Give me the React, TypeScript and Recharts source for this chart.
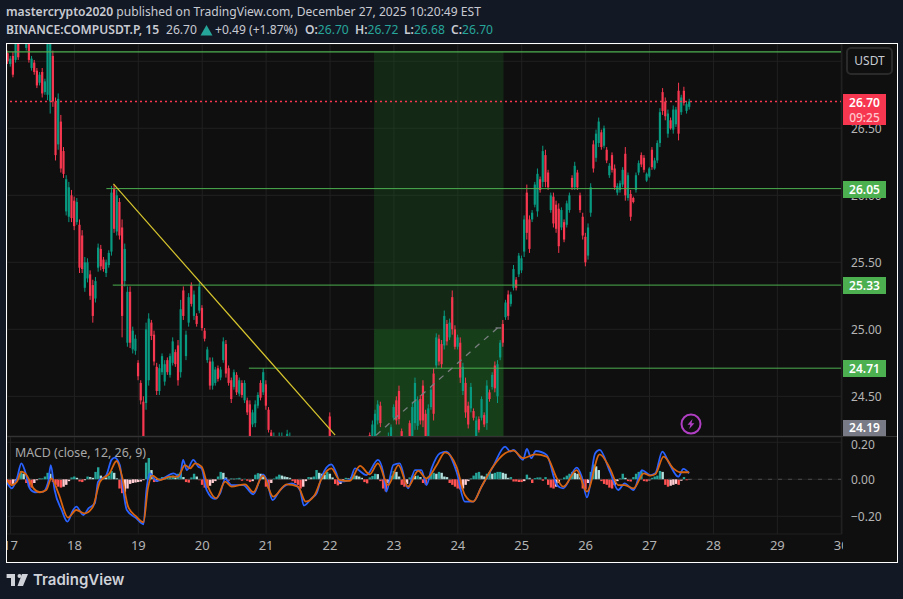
import React from "react";
import { ComposedChart, Bar, Line, Cell, XAxis, YAxis, CartesianGrid, ReferenceLine, ReferenceArea } from "recharts";

const highs = [
27.08,27.04,27.07,27.16,27.16,27.3,27.28,27.2,27.18,27.04,
27.01,26.95,26.92,26.95,26.87,27.2,27.25,27.08,26.73,26.76,
26.6,26.36,26.15,26.1,26.04,25.99,25.98,25.82,25.74,25.54,
25.53,25.44,25.37,25.39,25.64,25.63,25.54,25.52,25.59,26.07,
26.08,26.04,25.98,25.82,25.64,25.32,25.32,25.02,24.96,24.77,
24.62,24.5,25.05,25.12,25.07,24.99,24.75,24.74,24.82,24.77,
24.79,24.82,24.94,24.85,24.92,25.22,25.32,24.99,25.27,25.35,
25.29,25.12,25.35,25.18,25.01,24.87,24.79,24.79,24.72,24.73,
24.72,24.94,24.92,24.73,24.64,24.7,24.68,24.64,24.62,24.62,
24.49,24.47,24.4,24.47,24.53,24.62,24.71,24.62,24.42,24.25,
24.23,24.18,24.23,24.23,24.19,24.25,24.23,24.17,24.16,24.15,
24.14,24.15,24.16,24.14,24.13,24.15,24.17,24.16,24.18,24.17,
24.18,24.38,24.16,24.14,24.15,24.13,24.14,24.15,24.16,24.15,
24.17,24.16,24.17,24.18,24.19,24.19,24.23,24.32,24.4,24.47,
24.46,24.19,24.2,24.23,24.29,24.44,24.5,24.58,24.26,24.19,
24.2,24.32,24.46,24.64,24.5,24.51,24.62,24.4,24.44,24.57,
24.71,24.97,24.96,24.92,25.14,25.07,25.08,25.29,25.03,24.96,
24.94,24.75,24.64,24.46,24.6,24.41,24.35,24.35,24.5,24.38,
24.62,24.55,24.68,24.76,24.77,24.92,25.07,25.22,25.29,25.28,
25.48,25.39,25.57,25.55,25.85,26.08,25.85,25.89,26.1,26.2,
26.14,26.37,26.34,26.19,26.02,26.02,25.96,25.94,25.91,25.82,
25.96,26.02,26.15,26.25,26.19,26.02,25.87,25.72,25.79,26.09,
26.41,26.49,26.58,26.49,26.52,26.36,26.24,26.32,26.23,26.09,
26.11,26.21,26.36,26.17,26.04,25.99,26.17,26.26,26.32,26.3,
26.17,26.21,26.36,26.28,26.41,26.65,26.8,26.73,26.64,26.58,
26.67,26.66,26.84,26.75,26.81,26.7,26.72];

const lows = [
26.98,26.96,26.88,26.99,27.01,27.18,27.17,27.08,26.99,26.93,
26.9,26.8,26.82,26.73,26.75,26.71,26.61,26.66,26.26,26.34,
26.17,26.13,25.85,25.8,25.8,25.74,25.78,25.42,25.42,25.28,
25.35,25.22,25.05,25.2,25.43,25.44,25.43,25.39,25.46,25.55,
25.72,25.7,25.67,24.94,25.32,24.87,24.86,24.82,24.81,24.62,
24.44,24.1,24.4,24.58,24.92,24.73,24.51,24.51,24.66,24.58,
24.66,24.64,24.73,24.72,24.58,24.64,25.07,24.77,25.02,25.17,
25.07,25.02,25.12,24.99,24.91,24.75,24.55,24.55,24.58,24.61,
24.62,24.75,24.64,24.58,24.45,24.55,24.51,24.5,24.49,24.45,
24.36,24.1,24.27,24.27,24.41,24.47,24.51,24.4,24.23,24.12,
24.1,24.08,24.1,24.12,24.1,24.14,24.12,24.05,24.04,24.03,
24.02,24.03,24.04,24.03,24.02,24.02,24.05,24.06,24.05,24.04,
24.06,24.1,24.05,24.03,24.02,24.01,24.02,24.03,24.04,24.05,
24.06,24.05,24.06,24.07,24.08,24.09,24.1,24.12,24.15,24.29,
24.27,24.1,24.1,24.12,24.15,24.32,24.29,24.29,24.1,24.08,
24.1,24.12,24.15,24.25,24.25,24.29,24.27,24.12,24.15,24.4,
24.32,24.71,24.73,24.71,24.85,24.88,24.92,24.96,24.85,24.85,
24.6,24.51,24.34,24.26,24.38,24.32,24.12,24.23,24.32,24.27,
24.25,24.46,24.55,24.53,24.45,24.77,24.87,25.07,25.07,25.17,
25.29,25.29,25.39,25.42,25.54,25.67,25.57,25.8,25.91,25.84,
26.02,26.06,26.06,26.04,25.87,25.76,25.72,25.57,25.74,25.65,
25.76,25.87,26.04,26.04,26.04,25.87,25.67,25.47,25.52,25.84,
26.17,26.25,26.36,26.34,26.35,26.24,26.13,26.17,26.04,26.0,
26.02,26.06,25.96,25.96,25.81,25.94,26.02,26.15,26.21,26.17,
26.1,26.13,26.19,26.19,26.24,26.36,26.6,26.56,26.43,26.49,
26.46,26.51,26.41,26.6,26.67,26.61,26.64];

const opens = [
27.06,26.98,27.04,27.01,27.14,27.2,27.26,27.1,27.16,26.95,
26.99,26.93,26.84,26.92,26.77,26.75,26.7,27.04,26.7,26.38,
26.55,26.33,25.88,25.84,26.0,25.96,25.8,25.78,25.7,25.31,
25.38,25.41,25.33,25.23,25.46,25.6,25.52,25.42,25.48,25.58,
26.05,25.73,25.95,25.76,25.36,24.9,25.28,24.85,24.84,24.75,
24.6,24.46,24.45,24.62,25.05,24.96,24.72,24.54,24.68,24.61,
24.77,24.66,24.75,24.83,24.88,24.68,25.29,24.8,25.05,25.33,
25.1,25.1,25.14,25.16,24.99,24.77,24.76,24.58,24.6,24.71,
24.64,24.77,24.89,24.71,24.62,24.57,24.66,24.52,24.6,24.47,
24.47,24.44,24.29,24.3,24.43,24.6,24.53,24.59,24.4,24.23,
24.12,24.16,24.12,24.14,24.17,24.16,24.14,24.15,24.06,24.13,
24.12,24.05,24.14,24.05,24.11,24.04,24.07,24.14,24.07,24.15,
24.08,24.35,24.14,24.05,24.13,24.03,24.12,24.05,24.06,24.13,
24.08,24.14,24.08,24.09,24.17,24.11,24.21,24.15,24.18,24.32,
24.43,24.17,24.12,24.14,24.17,24.34,24.47,24.54,24.24,24.17,
24.12,24.3,24.18,24.3,24.28,24.48,24.58,24.37,24.18,24.42,
24.67,24.73,24.93,24.89,24.88,25.04,24.94,25.24,25.0,24.87,
24.9,24.54,24.6,24.43,24.41,24.39,24.16,24.33,24.34,24.36,
24.3,24.53,24.57,24.73,24.5,24.79,25.04,25.09,25.26,25.19,
25.31,25.37,25.41,25.44,25.58,26.02,25.82,25.82,25.93,25.88,
26.12,26.1,26.3,26.17,25.89,25.99,25.93,25.9,25.76,25.8,
25.78,25.89,26.13,26.06,26.17,26.0,25.84,25.69,25.55,25.87,
26.38,26.28,26.39,26.47,26.37,26.34,26.15,26.3,26.2,26.02,
26.04,26.08,26.31,25.98,26.01,25.98,26.04,26.17,26.3,26.28,
26.11,26.14,26.34,26.2,26.26,26.39,26.77,26.7,26.46,26.56,
26.49,26.53,26.78,26.62,26.78,26.63,26.66];

const closes = [
27.0,27.02,26.9,27.14,27.03,27.28,27.19,27.18,27.01,27.02,
26.92,26.82,26.9,26.76,26.85,27.15,27.2,26.7,26.3,26.72,
26.2,26.16,26.12,26.06,25.83,25.77,25.95,25.46,25.45,25.5,
25.5,25.25,25.1,25.36,25.61,25.47,25.45,25.5,25.57,26.02,
25.75,26.0,25.7,25.1,25.6,25.28,24.9,24.99,24.93,24.65,
24.47,24.15,25.0,25.08,24.95,24.76,24.54,24.71,24.8,24.74,
24.68,24.8,24.91,24.74,24.62,25.15,25.1,24.96,25.24,25.19,
25.26,25.04,25.32,25.01,24.93,24.85,24.58,24.76,24.7,24.63,
24.7,24.91,24.67,24.6,24.48,24.68,24.53,24.62,24.51,24.6,
24.38,24.15,24.38,24.44,24.51,24.49,24.68,24.43,24.25,24.15,
24.2,24.1,24.2,24.2,24.12,24.22,24.2,24.07,24.14,24.05,
24.04,24.13,24.06,24.12,24.04,24.13,24.15,24.08,24.16,24.06,
24.16,24.12,24.07,24.12,24.04,24.11,24.04,24.13,24.14,24.07,
24.15,24.07,24.15,24.16,24.1,24.17,24.12,24.29,24.37,24.44,
24.3,24.12,24.18,24.2,24.27,24.42,24.32,24.33,24.12,24.1,
24.18,24.15,24.42,24.6,24.47,24.32,24.32,24.15,24.41,24.55,
24.37,24.94,24.76,24.74,25.1,24.91,25.05,25.0,24.87,24.94,
24.64,24.72,24.38,24.29,24.57,24.34,24.32,24.25,24.48,24.29,
24.58,24.48,24.66,24.56,24.74,24.9,24.9,25.2,25.1,25.26,
25.45,25.31,25.55,25.53,25.82,25.72,25.6,25.87,26.08,26.16,
26.04,26.33,26.1,26.06,26.0,25.79,25.75,25.62,25.89,25.67,
25.94,26.0,26.06,26.22,26.06,25.89,25.7,25.5,25.76,26.06,
26.2,26.46,26.55,26.36,26.5,26.26,26.22,26.19,26.06,26.07,
26.09,26.19,26.0,26.15,25.84,25.95,26.15,26.24,26.23,26.19,
26.16,26.2,26.21,26.26,26.39,26.62,26.63,26.59,26.61,26.5,
26.64,26.64,26.46,26.73,26.69,26.68,26.7];

const histogram = [
-.02,-.03,-.025,-.01,.02,.045,.03,-.02,-.04,-.045,
-.02,-.005,.005,.005,.015,.035,.03,-.015,-.03,-.04,
-.045,-.04,-.03,-.01,.01,.015,.008,-.012,-.015,-.005,
.015,.012,.008,.04,.065,.02,.012,.01,.02,.045,
.035,.005,-.05,-.075,-.07,-.05,-.025,-.02,-.018,-.015,
-.012,-.005,.09,.115,.05,-.015,-.012,.005,.012,.01,
.012,.015,.02,.01,.03,.04,.012,-.015,-.018,.01,
.03,.015,-.005,-.03,-.045,-.045,-.035,-.02,-.01,.015,
.04,.035,.01,-.008,.005,.003,.005,.008,-.008,.003,
-.008,-.015,-.01,.025,.033,.03,.015,-.04,-.05,-.02,
.004,.015,.025,.02,.015,.012,.008,-.01,-.02,-.03,
-.05,-.04,-.01,.012,.01,.015,.05,.035,.03,.025,
.04,.03,.01,-.025,-.033,-.025,-.01,.008,.005,.012,
.025,.02,.015,.008,-.015,-.022,.01,.018,.03,.028,
-.01,-.05,-.065,-.02,.02,.045,.04,.015,-.03,-.04,
-.025,.01,.02,.018,.02,.012,-.02,-.028,.015,.03,
.035,.03,.04,.035,.015,.012,-.02,-.03,-.04,-.05,
-.055,-.05,-.03,-.01,.005,.02,.035,.04,.02,.015,
.03,.04,.03,.035,.04,.04,.035,.03,.008,.012,
-.012,-.012,-.014,-.015,-.01,.025,.008,-.02,.006,.01,
.01,-.008,.012,-.03,-.045,-.05,-.04,-.02,.002,.01,
.02,.03,.04,.035,.03,.01,-.05,-.055,-.02,.04,
.08,.07,.05,-.01,-.025,-.03,-.045,-.05,-.03,-.01,
.005,.03,.008,-.01,-.012,.012,.03,.04,.045,-.01,
-.012,-.006,.008,.015,.02,.045,.04,-.03,-.04,-.035,
-.03,-.025,-.03,-.008,.012,-.005,-.003];

const macdTimes = [16.94,17.02,17.1,17.17,17.23,17.3,17.38,17.51,17.59,17.63,17.69,17.8,17.89,17.98,18.03,18.14,18.22,18.32,18.37,18.5,18.58,18.63,18.71,18.76,18.82,18.97,19.08,19.13,19.18,19.29,19.39,19.55,19.65,19.7,19.76,19.86,19.94,19.99,20.07,20.2,20.28,20.36,20.46,20.64,20.8,20.95,21.01,21.1,21.22,21.4,21.53,21.59,21.71,21.79,21.87,22.02,22.1,22.15,22.31,22.39,22.57,22.75,22.83,22.88,22.99,23.09,23.22,23.33,23.43,23.51,23.59,23.72,23.82,23.98,24.11,24.24,24.37,24.55,24.74,24.82,24.87,25.02,25.08,25.15,25.22,25.39,25.55,25.65,25.86,25.94,26.02,26.15,26.22,26.38,26.51,26.61,26.75,26.88,27.01,27.09,27.2,27.32,27.45,27.53,27.62];
const macdValues = [-.013,-.049,.005,.086,.041,-.049,-.07,-.067,-.013,.077,-.058,-.166,-.229,-.166,-.148,-.193,-.157,-.13,-.013,.023,.105,.117,.077,-.049,-.166,-.211,-.243,-.049,.032,-.009,.005,.032,.014,.105,.05,.105,.068,.059,-.058,-.106,-.076,.002,-.031,-.031,-.081,.027,-.004,-.112,-.058,-.022,-.058,-.142,-.103,-.076,.014,.081,.032,-.013,-.005,.059,.023,.105,.041,-.067,.077,.086,-.049,.05,.05,-.031,.059,.141,.15,.041,-.121,-.121,-.04,.068,.177,.15,.159,.105,.164,.114,.153,.132,-.031,-.049,.063,.014,-.097,.141,.159,.041,-.058,-.022,-.058,.05,.023,.032,.15,.077,.014,.056,.032];
const signalTimes = [16.94,17.02,17.1,17.17,17.25,17.36,17.46,17.56,17.64,17.75,17.9,18.03,18.16,18.29,18.4,18.55,18.66,18.74,18.84,18.97,19.08,19.15,19.22,19.34,19.49,19.62,19.73,19.81,19.89,19.99,20.09,20.22,20.36,20.46,20.67,20.8,20.95,21.11,21.32,21.5,21.62,21.76,21.87,22.02,22.15,22.31,22.47,22.62,22.75,22.91,23.07,23.22,23.38,23.51,23.67,23.8,23.98,24.11,24.24,24.37,24.55,24.74,24.87,25.02,25.21,25.39,25.55,25.65,25.86,26.02,26.22,26.38,26.51,26.61,26.75,26.91,27.01,27.09,27.22,27.37,27.48,27.62];
const signalValues = [-.004,-.031,-.013,.041,.023,-.049,-.07,-.058,.005,-.076,-.207,-.166,-.184,-.148,-.013,.032,.099,.023,-.148,-.202,-.232,-.049,.02,-.004,.014,.014,.077,.059,.086,.068,-.04,-.103,-.013,-.04,-.027,-.07,.02,-.094,-.027,-.04,-.121,-.085,.005,.059,-.004,-.009,.072,.027,.086,-.031,.077,-.04,.045,.005,.077,.146,.068,-.085,-.121,-.04,.068,.141,.155,.114,.135,.123,.005,-.04,.05,-.067,.135,.059,-.031,-.031,-.049,.032,.02,.027,.123,.059,.038,.038];

const dayTicks = [17, 18, 19, 20, 21, 22, 23, 24, 25, 26, 27, 28, 29, 30];
const priceTicks = [24.5, 25, 25.5, 26, 26.5, 27];
const macdTicks = [-0.2, 0, 0.2];
const headerLine1 = ["mastercrypto2020", " published on TradingView.com, December 27, 2025 10:20:49 EST"];
const symbolTitle = "BINANCE:COMPUSDT.P, 15";
const ohlcLabels = ["O:", "H:", "L:", "C:"];
const ohlcValues = ["26.70", "26.72", "26.68", "26.70"];

const START_TIME = 16.958;
const candles = highs.map((h, i) => ({ t: START_TIME + i / 24, high: h, low: lows[i], open: opens[i], close: closes[i], hist: histogram[i] }));
const macdLine = macdTimes.map((t, i) => ({ t, v: macdValues[i] }));
const signalLine = signalTimes.map((t, i) => ({ t, v: signalValues[i] }));

const UP = "#089981";
const DOWN = "#f7374f";
const GRID = "#212121";
const GREEN = "#4caf50";
const FONT = "'Noto Sans', sans-serif";
const TEXT = "#b4b4b4";
const X_DOMAIN: [number, number] = [16.945, 30.012];
const MACD_DOMAIN: [number, number] = [-0.2957, 0.2286];

function Candle(props: any) {
  const { x, y, width, height, payload } = props;
  const h = Math.abs(height);
  const span = payload.high - payload.low || 1;
  const py = (v: number) => y + ((payload.high - v) / span) * h;
  const top = py(Math.max(payload.open, payload.close));
  const bottom = py(Math.min(payload.open, payload.close));
  const color = payload.close >= payload.open ? UP : DOWN;
  const cx = x + width / 2;
  return (
    <g>
      <line x1={cx} x2={cx} y1={y} y2={y + h} stroke={color} strokeWidth={1} />
      <rect x={x} y={top} width={width} height={Math.max(bottom - top, 1)} fill={color} />
    </g>
  );
}

function histColor(i: number) {
  const v = histogram[i];
  const prev = i > 0 ? histogram[i - 1] : 0;
  if (v >= 0) return v >= prev ? "#26a69a" : "#b2dfdb";
  return v <= prev ? "#ff5252" : "#ffcdd2";
}

const Badge = ({ top, height, bg, children }: any) => (
  <div style={{ position: "absolute", left: 843, top, width: 43, height, background: bg, color: "#fff", font: `600 12px ${FONT}`, textAlign: "center", lineHeight: `${height}px` }}>{children}</div>
);

export default function App() {
  const axisTick = { fill: TEXT, fontSize: 12, fontFamily: FONT };
  const headStyle: React.CSSProperties = { position: "absolute", fontSize: 12.1, lineHeight: "18px", color: "#c8cbd2", whiteSpace: "pre" };
  return (
    <div style={{ position: "absolute", left: 0, top: 0, width: 903, height: 599, background: "#131825", overflow: "hidden", fontFamily: FONT }}>
      <div style={{ ...headStyle, left: 6, top: 3 }}>
        <span style={{ fontWeight: 600 }}>{headerLine1[0]}</span>{headerLine1[1]}
      </div>
      <div style={{ ...headStyle, left: 6, top: 21 }}>
        <span style={{ fontWeight: 600 }}>{symbolTitle}</span>
      </div>
      <div style={{ ...headStyle, left: 166, top: 21 }}>26.70</div>
      <svg style={{ position: "absolute", left: 200, top: 25 }} width={13} height={11}><path d="M6.5 0 L12.5 10.5 H0.5 Z" fill="#26a69a" /></svg>
      <div style={{ ...headStyle, left: 215, top: 21 }}>+0.49 (+1.87%)</div>
      {ohlcLabels.map((l, i) => (
        <div key={l} style={{ ...headStyle, left: [305, 355, 404, 451][i], top: 21 }}>
          <span style={{ fontWeight: 600 }}>{l}</span><span style={{ color: "#26a69a" }}>{ohlcValues[i]}</span>
        </div>
      ))}

      <div style={{ position: "absolute", left: 7, top: 44, width: 890, height: 518, background: "#0f0f0f" }} />

      <div style={{ position: "absolute", left: 7, top: 44 }}>
        <ComposedChart width={890} height={392} data={candles} barGap={0} margin={{ top: 0, right: 0, bottom: 0, left: 0 }}>
          <CartesianGrid stroke={GRID} />
          <XAxis dataKey="t" type="number" domain={X_DOMAIN} ticks={dayTicks} hide allowDataOverflow />
          <YAxis orientation="right" width={55} domain={[24.204, 27.129]} ticks={priceTicks} allowDataOverflow axisLine={false} tickLine={false} tickSize={0} tickMargin={9} tick={axisTick} tickFormatter={(v: number) => v.toFixed(2)} />
          <ReferenceLine y={27.07} stroke={GREEN} strokeWidth={1.2} />
          <ReferenceLine segment={[{ x: 18.5, y: 26.05 }, { x: 30.012, y: 26.05 }]} stroke={GREEN} strokeWidth={1} />
          <ReferenceLine segment={[{ x: 18.6, y: 25.33 }, { x: 30.012, y: 25.33 }]} stroke={GREEN} strokeWidth={1} />
          <ReferenceLine segment={[{ x: 20.73, y: 24.71 }, { x: 30.012, y: 24.71 }]} stroke={GREEN} strokeWidth={1} />
          <ReferenceArea x1={22.689} x2={24.715} y1={25} y2={27.07} fill="#1b5e20" fillOpacity={0.33} stroke="none" />
          <ReferenceArea x1={22.689} x2={24.715} y1={24.204} y2={25} fill="#1b5e20" fillOpacity={0.6} stroke="none" />
          <ReferenceLine segment={[{ x: 18.61, y: 26.085 }, { x: 22.08, y: 24.21 }]} stroke="#d8c62e" strokeWidth={1.2} />
          <Bar dataKey={(d: any) => [d.low, d.high]} barSize={2.2} shape={<Candle />} isAnimationActive={false} />
          <ReferenceLine segment={[{ x: 22.72, y: 24.21 }, { x: 24.62, y: 25.01 }]} stroke="#7a7d80" strokeWidth={1.3} strokeDasharray="6 6" />
          <ReferenceLine segment={[{ x: 24.59, y: 25.01 }, { x: 24.68, y: 25.01 }]} stroke="#7a7d80" strokeWidth={1.3} />
          <ReferenceLine y={26.7} stroke={DOWN} strokeWidth={1.6} strokeDasharray="2 3" />
        </ComposedChart>
      </div>

      <div style={{ position: "absolute", left: 7, top: 437 }}>
        <ComposedChart width={890} height={125} data={candles} barGap={0} margin={{ top: 0, right: 0, bottom: 0, left: 0 }}>
          <CartesianGrid stroke={GRID} />
          <XAxis dataKey="t" type="number" domain={X_DOMAIN} ticks={dayTicks} interval={0} height={28} allowDataOverflow axisLine={false} tickLine={false} tickSize={0} tickMargin={7} tick={{ ...axisTick, fontSize: 13 }} tickFormatter={(v: number) => String(v)} />
          <YAxis orientation="right" width={55} domain={MACD_DOMAIN} ticks={macdTicks} allowDataOverflow axisLine={false} tickLine={false} tickSize={0} tickMargin={9} tick={axisTick} tickFormatter={(v: number) => v.toFixed(2).replace("-", "−")} />
          <ReferenceLine y={0} stroke="#4a4a4a" strokeDasharray="4 6" />
          <Bar dataKey="hist" barSize={3} isAnimationActive={false}>
            {candles.map((_, i) => <Cell key={i} fill={histColor(i)} />)}
          </Bar>
        </ComposedChart>
      </div>

      <div style={{ position: "absolute", left: 7, top: 437 }}>
        <ComposedChart width={890} height={125} margin={{ top: 0, right: 0, bottom: 0, left: 0 }}>
          <XAxis dataKey="t" type="number" domain={X_DOMAIN} ticks={dayTicks} height={28} allowDataOverflow axisLine={false} tickLine={false} tick={false} />
          <YAxis orientation="right" width={55} domain={MACD_DOMAIN} ticks={macdTicks} allowDataOverflow axisLine={false} tickLine={false} tick={false} />
          <Line data={macdLine} dataKey="v" type="monotone" stroke="#2962ff" strokeWidth={1.8} dot={false} isAnimationActive={false} />
          <Line data={signalLine} dataKey="v" type="monotone" stroke="#d9640f" strokeWidth={1.8} dot={false} isAnimationActive={false} />
        </ComposedChart>
      </div>

      <div style={{ position: "absolute", left: 843, top: 538, width: 53, height: 23, background: "#0f0f0f" }} />
      <div style={{ position: "absolute", left: 0, top: 44, width: 6, height: 518, background: "#131825" }} />
      <div style={{ position: "absolute", left: 841, top: 44, width: 1, height: 490, background: GRID }} />
      <div style={{ position: "absolute", left: 7, top: 436, width: 890, height: 1, background: "#333" }} />

      <Badge top={94} height={31} bg="#f7374f">
        <div style={{ lineHeight: "15px", paddingTop: 1 }}>26.70<br /><span style={{ color: "#ffc6cd", fontWeight: 500 }}>09:25</span></div>
      </Badge>
      <Badge top={181} height={17} bg={GREEN}>26.05</Badge>
      <Badge top={277} height={17} bg={GREEN}>25.33</Badge>
      <Badge top={360} height={17} bg={GREEN}>24.71</Badge>
      <Badge top={420} height={16} bg="#787b86">24.19</Badge>

      <div style={{ position: "absolute", left: 846, top: 47, width: 43, height: 24, border: "2px solid #2a2a2a", borderRadius: 5, background: "#0f0f0f", color: "#c8cbd2", fontSize: 12, lineHeight: "24px", textAlign: "center" }}>USDT</div>

      <div style={{ position: "absolute", left: 15, top: 444, fontSize: 12.4, lineHeight: "18px", color: "#a8a8a8", whiteSpace: "pre" }}>MACD (close, 12, 26, 9)</div>

      <svg style={{ position: "absolute", left: 679, top: 413 }} width={24} height={24} viewBox="0 0 24 24">
        <circle cx={12} cy={11} r={9.5} fill="none" stroke="#b13fc4" strokeWidth={2} />
        <path d="M13.5 6 L8.5 11.8 L11.4 11.8 L10.2 16 L15.4 10.2 L12.5 10.2 Z" fill="#b13fc4" />
      </svg>

      <div style={{ position: "absolute", left: 6, top: 43, width: 890, height: 518, border: "1px solid #fff", pointerEvents: "none" }} />

      <svg style={{ position: "absolute", left: 6, top: 573 }} width={24} height={14} viewBox="0 0 24 14" fill="#cfd2d8">
        <path d="M0.6 1 H9 V13 H5 V5 H0.6 Z" />
        <circle cx={13.5} cy={3} r={2} />
        <path d="M16 1 H22 L17 13 H11.5 Z" />
      </svg>
      <div style={{ position: "absolute", left: 33, top: 569, fontFamily: "Inter, sans-serif", fontSize: 15, fontWeight: 600, lineHeight: "22px", color: "#cfd2d8" }}>TradingView</div>
    </div>
  );
}
